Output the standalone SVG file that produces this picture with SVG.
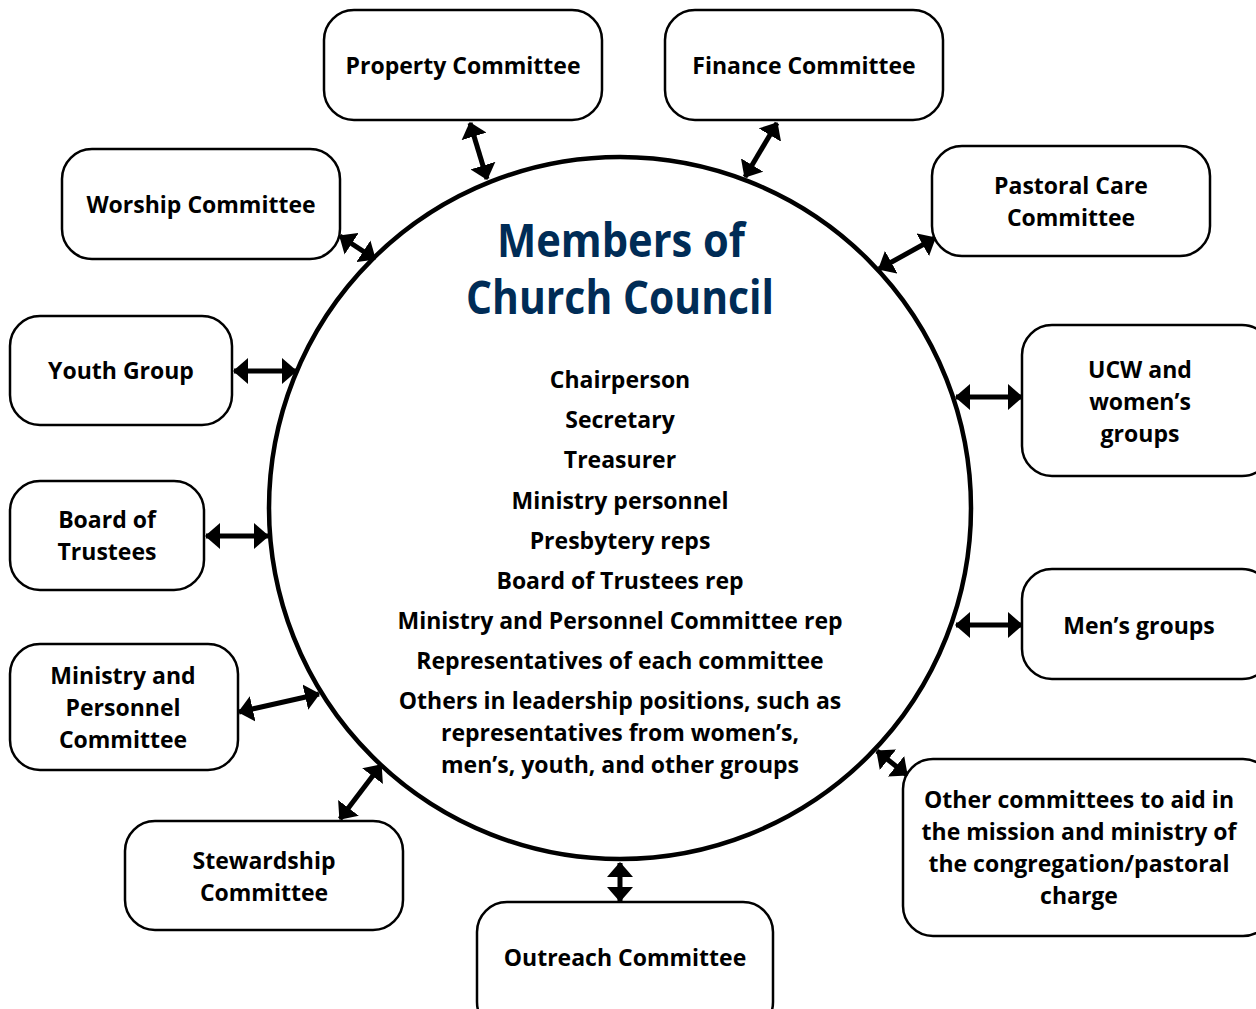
<svg xmlns="http://www.w3.org/2000/svg" width="1256" height="1009" viewBox="0 0 1256 1009">
<style>
.box{fill:#fff;stroke:#000;stroke-width:2.5}
.t{font-family:"Open Sans","Noto Sans",sans-serif;font-weight:700;font-size:23px;fill:#000;text-anchor:middle}
.m{font-family:"Open Sans","Noto Sans",sans-serif;font-weight:700;font-size:23px;fill:#000;text-anchor:middle}
.title{font-family:"Open Sans","Noto Sans",sans-serif;font-weight:700;font-size:46px;fill:#002c56;text-anchor:middle}
.c{stroke:#000;stroke-width:5;fill:none;marker-start:url(#ah);marker-end:url(#ah)}
</style>
<defs>
<marker id="ah" viewBox="0 0 15 26" refX="14" refY="13" markerWidth="15" markerHeight="26" markerUnits="userSpaceOnUse" orient="auto-start-reverse">
<path d="M0,0 L15,13 L0,26 Z" fill="#000"/>
</marker>
</defs>
<rect width="1256" height="1009" fill="#fff"/>
<g id="council">
<circle cx="620" cy="508" r="351" fill="#fff" stroke="#000" stroke-width="4.5"/>
<text class="title" x="621" y="257" textLength="248" lengthAdjust="spacingAndGlyphs">Members of</text>
<text class="title" x="620" y="314" textLength="308" lengthAdjust="spacingAndGlyphs">Church Council</text>
<text class="m" x="620" y="388">Chairperson</text>
<text class="m" x="620" y="428">Secretary</text>
<text class="m" x="620" y="468">Treasurer</text>
<text class="m" x="620" y="509">Ministry personnel</text>
<text class="m" x="620" y="549">Presbytery reps</text>
<text class="m" x="620" y="589">Board of Trustees rep</text>
<text class="m" x="620" y="629">Ministry and Personnel Committee rep</text>
<text class="m" x="620" y="669">Representatives of each committee</text>
<text class="m" x="620" y="709">Others in leadership positions, such as</text>
<text class="m" x="620" y="741">representatives from women’s,</text>
<text class="m" x="620" y="773">men’s, youth, and other groups</text>
</g>
<g id="property"><rect class="box" x="324" y="10" width="278" height="110" rx="30"/><text class="t" x="463" y="74">Property Committee</text></g>
<g id="finance"><rect class="box" x="665" y="10" width="278" height="110" rx="30"/><text class="t" x="804" y="74">Finance Committee</text></g>
<g id="worship"><rect class="box" x="62" y="149" width="278" height="110" rx="30"/><text class="t" x="201" y="213">Worship Committee</text></g>
<g id="pastoral"><rect class="box" x="932" y="146" width="278" height="110" rx="30"/><text class="t" x="1071" y="194">Pastoral Care</text><text class="t" x="1071" y="226">Committee</text></g>
<g id="youth"><rect class="box" x="10" y="316" width="222" height="109" rx="30"/><text class="t" x="121" y="379">Youth Group</text></g>
<g id="ucw"><rect class="box" x="1022" y="325" width="250" height="151" rx="30"/><text class="t" x="1140" y="378">UCW and</text><text class="t" x="1140" y="410">women’s</text><text class="t" x="1140" y="442">groups</text></g>
<g id="trustees"><rect class="box" x="10" y="481" width="194" height="109" rx="30"/><text class="t" x="107" y="528">Board of</text><text class="t" x="107" y="560">Trustees</text></g>
<g id="mens"><rect class="box" x="1022" y="569" width="250" height="110" rx="30"/><text class="t" x="1139" y="634">Men’s groups</text></g>
<g id="ministry"><rect class="box" x="10" y="644" width="228" height="126" rx="30"/><text class="t" x="123" y="684">Ministry and</text><text class="t" x="123" y="716">Personnel</text><text class="t" x="123" y="748">Committee</text></g>
<g id="stewardship"><rect class="box" x="125" y="821" width="278" height="109" rx="30"/><text class="t" x="264" y="869">Stewardship</text><text class="t" x="264" y="901">Committee</text></g>
<g id="outreach"><rect class="box" x="477" y="902" width="296" height="130" rx="30"/><text class="t" x="625" y="966">Outreach Committee</text></g>
<g id="other"><rect class="box" x="903" y="759" width="370" height="177" rx="30"/><text class="t" x="1079" y="808">Other committees to aid in</text><text class="t" x="1079" y="840">the mission and ministry of</text><text class="t" x="1079" y="872">the congregation/pastoral</text><text class="t" x="1079" y="904">charge</text></g>
<g id="connectors">
<line class="c" x1="470" y1="123" x2="487" y2="179"/>
<line class="c" x1="777" y1="123" x2="745" y2="177"/>
<line class="c" x1="340" y1="236" x2="375" y2="259"/>
<line class="c" x1="935" y1="238" x2="879" y2="269"/>
<line class="c" x1="234" y1="371" x2="296" y2="371"/>
<line class="c" x1="206" y1="536" x2="268" y2="536"/>
<line class="c" x1="239" y1="712" x2="319" y2="694"/>
<line class="c" x1="340" y1="819" x2="381" y2="765"/>
<line class="c" x1="620" y1="863" x2="620" y2="901"/>
<line class="c" x1="956" y1="397" x2="1022" y2="397"/>
<line class="c" x1="956" y1="625" x2="1022" y2="625"/>
<line class="c" x1="877" y1="751" x2="907" y2="775"/>
</g>
</svg>
